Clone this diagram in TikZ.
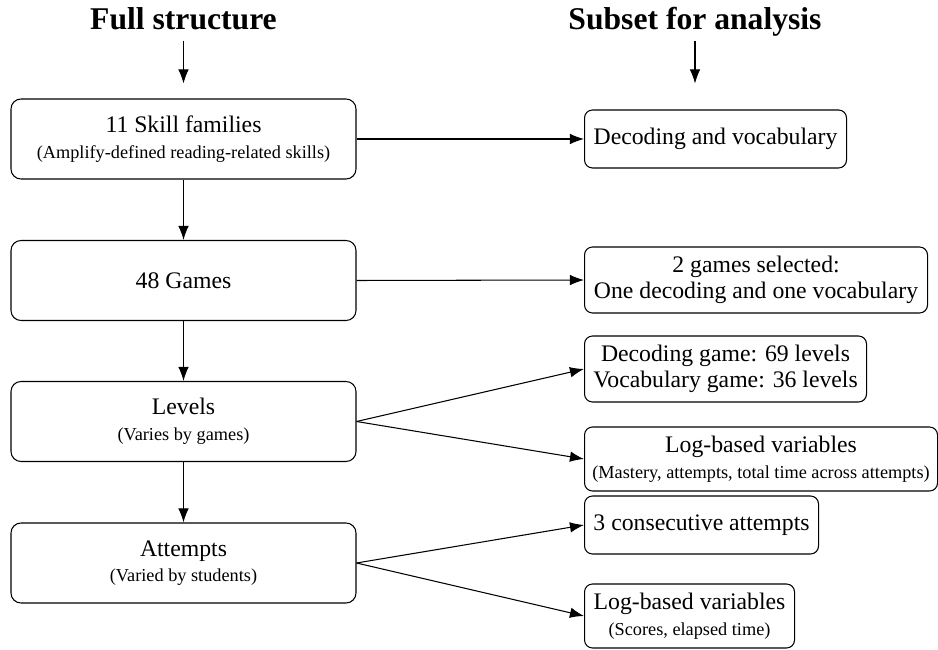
\documentclass[tikz,border=0pt]{standalone}
\usepackage{fontspec}
\setmainfont{Liberation Serif}
\usetikzlibrary{arrows.meta}

\newcommand{\smalltxt}[1]{{\fontsize{10.4}{12}\selectfont #1}}

\begin{document}
\begin{tikzpicture}[>={Latex[length=8pt,width=6pt]}, line width=0.6pt,
    leftbox/.style={draw, rounded corners=0.2cm, minimum width=6.9cm, minimum height=1.6cm, align=center, font=\fontsize{13.5}{14.6}\selectfont},
    rightbox/.style={draw, rounded corners=0.16cm, anchor=west, inner sep=2pt, align=center, font=\fontsize{13.5}{14.6}\selectfont},
    head/.style={font=\fontsize{18}{20}\selectfont\bfseries, anchor=base, inner sep=0pt, text depth=0pt}]

    \useasboundingbox (0,0) rectangle (18.76,-13);

    \node[head] (T1) at (3.67,-0.60) {Full structure};
    \node[head] (T2) at (13.9,-0.60) {Subset for analysis};
    \coordinate (T1e) at (3.67,-1.67);
    \coordinate (T2e) at (13.9,-1.67);
    \draw[->, shorten <=0.2cm] (T1.south) -- (T1e);
    \draw[->, shorten <=0.2cm] (T2.south) -- (T2e);

    \node[leftbox] (A) at (3.67,-2.78) {11 Skill families\\ \smalltxt{(Amplify-defined reading-related skills)}};
    \node[leftbox] (B) at (3.67,-5.61) {48 Games};
    \node[leftbox] (C) at (3.67,-8.43) {Levels\\ \smalltxt{(Varies by games)}};
    \node[leftbox] (D) at (3.67,-11.26) {Attempts\\ \smalltxt{(Varied by students)}};

    \draw[->] (A) -- (B);
    \draw[->] (B) -- (C);
    \draw[->] (C) -- (D);

    \node[rightbox, minimum width=5.24cm, minimum height=1.16cm] (A1) at (11.68,-2.78) {Decoding and vocabulary};
    \node[rightbox, minimum width=6.86cm, minimum height=1.32cm] (B1) at (11.68,-5.60) {2 games selected:\\ One decoding and one vocabulary};
    \node[rightbox, minimum width=5.64cm, minimum height=1.32cm] (C1) at (11.68,-7.38) {Decoding game: 69 levels\\ Vocabulary game: 36 levels};
    \node[rightbox, minimum width=7.06cm, minimum height=1.28cm] (C2) at (11.68,-9.18) {Log-based variables\\ \smalltxt{(Mastery, attempts, total time across attempts)}};
    \node[rightbox, minimum width=4.68cm, minimum height=1.16cm] (D1) at (11.68,-10.50) {3 consecutive attempts};
    \node[rightbox, minimum width=4.2cm, minimum height=1.28cm] (D2) at (11.68,-12.32) {Log-based variables\\ \smalltxt{(Scores, elapsed time)}};

    \draw[->] (A.east) -- (A1.west);
    \draw[->] (B.east) -- (B1.west);
    \draw[->] (C.east) -- (C1.west);
    \draw[->] (C.east) -- (C2.west);
    \draw[->] (D.east) -- (D1.west);
    \draw[->] (D.east) -- (D2.west);

\end{tikzpicture}
\end{document}
